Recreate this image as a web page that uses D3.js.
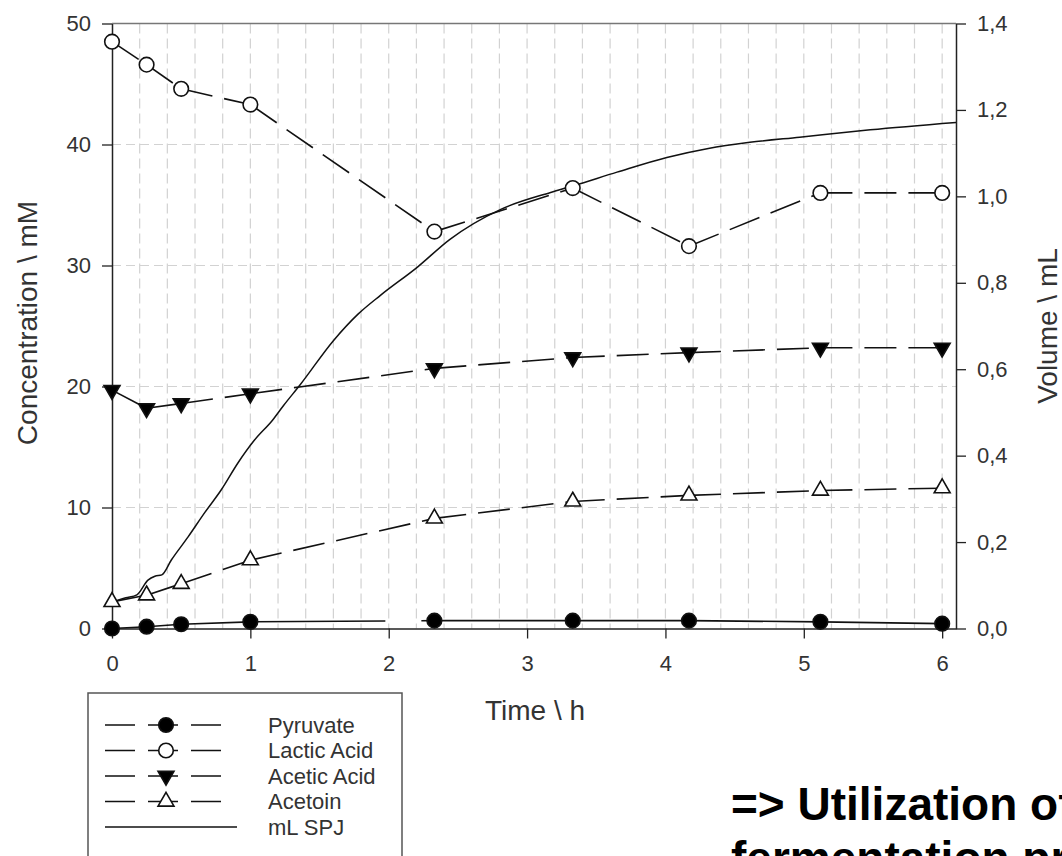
<!DOCTYPE html>
<html>
<head>
<meta charset="utf-8">
<script src="https://cdn.jsdelivr.net/npm/d3@7"></script>
<style>
  html, body { margin: 0; padding: 0; background: #fff; }
  svg { display: block; overflow: hidden; }
  text { font-family: "Liberation Sans", Arial, Helvetica, sans-serif; }
</style>
</head>
<body>
<svg id="chart" width="1062" height="856"></svg>
<script>
// ---------------- DATA ----------------
const sampleTimes = [0, 0.25, 0.5, 1.0, 2.33, 3.33, 4.17, 5.12, 6.0];
const pyruvate    = [0.0, 0.15, 0.35, 0.55, 0.65, 0.65, 0.65, 0.55, 0.4];
const lacticAcid  = [48.5, 46.6, 44.6, 43.3, 32.8, 36.4, 31.6, 36.0, 36.0];
const aceticAcid  = [19.7, 18.2, 18.6, 19.4, 21.5, 22.4, 22.8, 23.2, 23.2];
const acetoin     = [2.2, 2.75, 3.7, 5.65, 9.1, 10.5, 11.0, 11.4, 11.6];

const volumeTimes = [0, 0.10, 0.18, 0.26, 0.31, 0.36, 0.43, 0.55, 0.67, 0.79, 0.91, 1.03, 1.16, 1.24,
                     1.36, 1.60, 1.78, 1.94, 2.21, 2.44, 2.81, 3.17, 3.34, 3.65, 4.01, 4.31, 4.61,
                     4.97, 5.48, 6.10];
const volumeML    = [0.061, 0.071, 0.078, 0.112, 0.121, 0.124, 0.159, 0.212, 0.268, 0.321, 0.383,
                     0.436, 0.482, 0.516, 0.564, 0.666, 0.728, 0.771, 0.837, 0.900, 0.970, 1.009,
                     1.025, 1.056, 1.090, 1.111, 1.125, 1.137, 1.154, 1.171];

const xTicks = [0, 1, 2, 3, 4, 5, 6];
const yLeftTicks = [0, 10, 20, 30, 40, 50];
const yRightTicks = [0, 0.2, 0.4, 0.6, 0.8, 1.0, 1.2, 1.4];
const legendLabels = ["Pyruvate", "Lactic Acid", "Acetic Acid", "Acetoin", "mL SPJ"];
const xTitle = "Time \\ h";
const yLeftTitle = "Concentration \\ mM";
const yRightTitle = "Volume \\ mL";
const noteLines = ["=> Utilization of", "fermentation products"];

// ---------------- STYLES ----------------
const seriesList = [
  { values: pyruvate,   marker: "circle",  fill: "#000", dash: "135,36" },
  { values: lacticAcid, marker: "circle",  fill: "#fff", dash: "32,12" },
  { values: aceticAcid, marker: "triDown", fill: "#000", dash: "32,12" },
  { values: acetoin,    marker: "triUp",   fill: "#fff", dash: "32,12" }
];

const svg = d3.select("#chart");
const x = d3.scaleLinear().domain([0, 6.1]).range([112, 956]);
const yL = d3.scaleLinear().domain([0, 50]).range([628.5, 23.5]);
const yR = d3.scaleLinear().domain([0, 1.4]).range([628.5, 23.5]);

// grid
const grid = svg.append("g");
const vGrid = d3.range(1, 31).map(i => +(i * 0.2).toFixed(1));
grid.selectAll("line.v").data(vGrid).join("line")
  .attr("x1", d => x(d)).attr("x2", d => x(d))
  .attr("y1", yL(50)).attr("y2", yL(0))
  .attr("stroke", "#d2d2d2").attr("stroke-width", 1.2).attr("stroke-dasharray", "10,5");
grid.selectAll("line.h").data([10, 20, 30, 40]).join("line")
  .attr("x1", x(0)).attr("x2", x(6.1))
  .attr("y1", d => yL(d)).attr("y2", d => yL(d))
  .attr("stroke", "#d2d2d2").attr("stroke-width", 1.2).attr("stroke-dasharray", "9,5");

// top border
svg.append("line").attr("x1", x(0)).attr("x2", x(6.1)).attr("y1", yL(50)).attr("y2", yL(50))
  .attr("stroke", "#777").attr("stroke-width", 1.5);

// axes
const fmtComma = d3.formatLocale({decimal: ",", thousands: ".", grouping: [3], currency: ["", ""]}).format(".1f");
function styleAxis(g) {
  g.selectAll(".domain").attr("stroke", "#222").attr("stroke-width", 1.5);
  g.selectAll(".tick line").attr("stroke", "#222").attr("stroke-width", 1.3);
  g.selectAll(".tick text").attr("fill", "#333").style("font-size", "22px")
    .style("font-family", '"Liberation Sans", Arial, sans-serif');
}
svg.append("g").attr("transform", `translate(${x(0)},0)`)
  .call(d3.axisLeft(yL).tickValues(yLeftTicks).tickFormat(d3.format("d")).tickSize(10).tickPadding(11).tickSizeOuter(0))
  .call(styleAxis);
svg.append("g").attr("transform", `translate(${x(6.1)},0)`)
  .call(d3.axisRight(yR).tickValues(yRightTicks).tickFormat(fmtComma).tickSize(10).tickPadding(11).tickSizeOuter(0))
  .call(styleAxis);
svg.append("g").attr("transform", `translate(0,${yL(0)})`)
  .call(d3.axisBottom(x).tickValues(xTicks).tickFormat(d3.format("d")).tickSize(10).tickPadding(17).tickSizeOuter(0))
  .call(styleAxis);

// axis titles
svg.append("text").attr("transform", `translate(37,323) rotate(-90)`)
  .attr("text-anchor", "middle").attr("fill", "#333").style("font-size", "28px").text(yLeftTitle);
svg.append("text").attr("transform", `translate(1057,326) rotate(-90)`)
  .attr("text-anchor", "middle").attr("fill", "#333").style("font-size", "28px").text(yRightTitle);
svg.append("text").attr("x", 535).attr("y", 720)
  .attr("text-anchor", "middle").attr("fill", "#333").style("font-size", "28px").text(xTitle);

// series lines (dash restarts each segment)
const linesG = svg.append("g");
seriesList.forEach(s => {
  for (let i = 0; i < s.values.length - 1; i++) {
    linesG.append("line")
      .attr("x1", x(sampleTimes[i])).attr("y1", yL(s.values[i]))
      .attr("x2", x(sampleTimes[i + 1])).attr("y2", yL(s.values[i + 1]))
      .attr("stroke", "#111").attr("stroke-width", 1.6).attr("stroke-dasharray", s.dash);
  }
});

// volume curve
const volData = volumeTimes.map((t, i) => [t, volumeML[i]]);
svg.append("path").datum(volData)
  .attr("d", d3.line().x(d => x(d[0])).y(d => yR(d[1])).curve(d3.curveMonotoneX))
  .attr("fill", "none").attr("stroke", "#111").attr("stroke-width", 1.5);

// markers
function drawMarker(g, type, fill, cx, cy) {
  if (type === "circle") {
    g.append("circle").attr("cx", cx).attr("cy", cy).attr("r", 7.3)
      .attr("fill", fill).attr("stroke", "#111").attr("stroke-width", 1.6);
  } else {
    const rot = type === "triDown" ? 180 : 0;
    g.append("path").attr("d", d3.symbol(d3.symbolTriangle, 110)())
      .attr("transform", `translate(${cx},${cy}) rotate(${rot})`)
      .attr("fill", fill).attr("stroke", "#111").attr("stroke-width", 1.6);
  }
}
const markG = svg.append("g");
seriesList.forEach(s => {
  s.values.forEach((v, i) => drawMarker(markG, s.marker, s.fill, x(sampleTimes[i]), yL(v)));
});

// legend
const lg = svg.append("g");
lg.append("rect").attr("x", 88).attr("y", 693).attr("width", 314).attr("height", 200)
  .attr("fill", "#fff").attr("stroke", "#555").attr("stroke-width", 1.5);
const rowY = [725, 750.5, 776, 801.5, 827];
legendLabels.forEach((lab, i) => {
  const yy = rowY[i];
  if (i < 4) {
    const s = seriesList[i];
    lg.append("line").attr("x1", 105).attr("x2", 224).attr("y1", yy).attr("y2", yy)
      .attr("stroke", "#111").attr("stroke-width", 1.6).attr("stroke-dasharray", "30,13");
    drawMarker(lg, s.marker, s.fill, 166, yy);
  } else {
    lg.append("line").attr("x1", 105).attr("x2", 237).attr("y1", yy).attr("y2", yy)
      .attr("stroke", "#111").attr("stroke-width", 1.6);
  }
  lg.append("text").attr("x", 268).attr("y", yy).attr("dy", "0.35em")
    .attr("fill", "#333").style("font-size", "22px").text(lab);
});

// note text (cut off at the right/bottom edge, as in the reference)
svg.append("text").attr("x", 731).attr("y", 820).attr("fill", "#000")
  .style("font-size", "46px").style("font-weight", "bold").text(noteLines[0]);
svg.append("text").attr("x", 731).attr("y", 874).attr("fill", "#000")
  .style("font-size", "46px").style("font-weight", "bold").text(noteLines[1]);
</script>
</body>
</html>
